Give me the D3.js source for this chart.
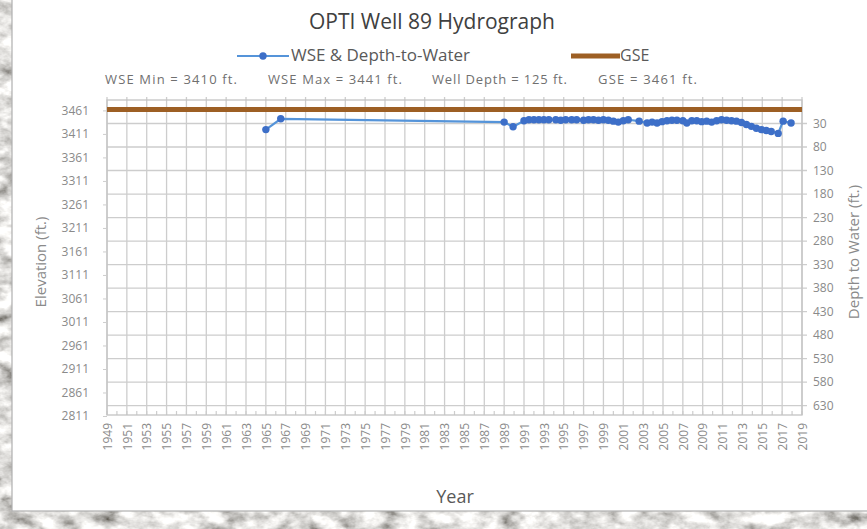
<!DOCTYPE html>
<html>
<head>
<meta charset="utf-8">
<script src="https://cdn.jsdelivr.net/npm/d3@7"></script>
<style>
  html, body { margin: 0; padding: 0; background: #fff; }
  svg { display: block; }
</style>
</head>
<body>
<svg id="chart" width="867" height="529"></svg>
<script>
// Water surface elevation readings (decimal year, feet)
const wseYears = [1965.0, 1966.5, 1989.0, 1989.9, 1991.0, 1991.5, 1992.0, 1992.5, 1993.0, 1993.5,
  1994.2, 1994.7, 1995.2, 1995.8, 1996.3, 1997.0, 1997.5, 1998.0, 1998.5, 1999.0,
  1999.5, 2000.0, 2000.5, 2001.0, 2001.5, 2002.6, 2003.4, 2003.9, 2004.4, 2004.9,
  2005.4, 2005.9, 2006.4, 2007.0, 2007.4, 2007.9, 2008.4, 2008.9, 2009.4, 2009.9,
  2010.4, 2010.9, 2011.4, 2011.9, 2012.4, 2012.9, 2013.4, 2013.9, 2014.4, 2014.9,
  2015.4, 2015.9, 2016.6, 2017.1, 2017.9];
const wseValues = [3418, 3441, 3434, 3424, 3437, 3439, 3439, 3439, 3439, 3439,
  3439, 3438, 3439, 3439, 3439, 3438, 3439, 3439, 3438, 3439,
  3438, 3436, 3434, 3437, 3439, 3436, 3432, 3434, 3432, 3435,
  3437, 3438, 3438, 3437, 3432, 3437, 3437, 3435, 3436, 3434,
  3437, 3439, 3438, 3437, 3436, 3433, 3429, 3425, 3421, 3418,
  3416, 3414, 3410, 3436, 3432];

// Ground surface elevation, constant across the record
const gseYears = [1949, 2019];
const gseValues = [3461, 3461];

const elevationTicks = [3461, 3411, 3361, 3311, 3261, 3211, 3161, 3111, 3061, 3011, 2961, 2911, 2861, 2811];
const depthTicks = [30, 80, 130, 180, 230, 280, 330, 380, 430, 480, 530, 580, 630];
const yearTicks = [1949, 1951, 1953, 1955, 1957, 1959, 1961, 1963, 1965, 1967, 1969, 1971,
  1973, 1975, 1977, 1979, 1981, 1983, 1985, 1987, 1989, 1991, 1993, 1995, 1997, 1999,
  2001, 2003, 2005, 2007, 2009, 2011, 2013, 2015, 2017, 2019];
const yearMinorTicks = d3.range(1949, 2020, 1);

const statsLabels = ["WSE Min = 3410 ft.", "WSE Max = 3441 ft.", "Well Depth = 125 ft.", "GSE = 3461 ft."];

const svg = d3.select("#chart");
const W = 867, H = 529;
const font = "'Open Sans', 'DejaVu Sans', sans-serif";

// Textured stone backdrop around the white sheet
const defs = svg.append("defs");
const tex = defs.append("filter").attr("id", "stone").attr("x", 0).attr("y", 0).attr("width", "100%").attr("height", "100%");
tex.append("feTurbulence").attr("type", "fractalNoise").attr("baseFrequency", "0.05 0.08")
  .attr("numOctaves", 4).attr("seed", 7).attr("result", "n");
tex.append("feColorMatrix").attr("type", "matrix")
  .attr("values", "1.05 1.05 0 0 -0.3  1.05 1.05 0 0 -0.31  1.05 1.05 0 0 -0.33  0 0 0 0 1");
svg.append("rect").attr("width", W).attr("height", H).attr("fill", "#c0beb8");
svg.append("rect").attr("width", W).attr("height", H).attr("filter", "url(#stone)");

// White sheet
svg.append("rect").attr("x", 12).attr("y", -2).attr("width", W).attr("height", 513)
  .attr("fill", "#ffffff").attr("stroke", "#b0b0b0").attr("stroke-width", 1.2);

// Plot area
const plot = { left: 107, right: 802, top: 100, bottom: 415 };
const x = d3.scaleLinear().domain([1949, 2019]).range([plot.left, plot.right]);
const yElev = d3.scaleLinear().domain([2811, 3481]).range([plot.bottom, plot.top]);
const yDepth = d3.scaleLinear().domain([-20, 650]).range([plot.top, plot.bottom]);

const gridColor = "#cdcdcd";
const g = svg.append("g");

// Horizontal gridlines follow the depth axis
g.append("g").selectAll("line").data(depthTicks).join("line")
  .attr("x1", plot.left).attr("x2", plot.right + 5)
  .attr("y1", d => yDepth(d)).attr("y2", d => yDepth(d))
  .attr("stroke", gridColor).attr("stroke-width", 1.3);

// Vertical gridlines every two years
g.append("g").selectAll("line").data(yearTicks).join("line")
  .attr("x1", d => x(d)).attr("x2", d => x(d))
  .attr("y1", plot.top - 3).attr("y2", plot.bottom)
  .attr("stroke", gridColor).attr("stroke-width", 1.3);

// Minor yearly ticks along the bottom edge
g.append("g").selectAll("line").data(yearMinorTicks).join("line")
  .attr("x1", d => x(d)).attr("x2", d => x(d))
  .attr("y1", plot.bottom - 4).attr("y2", plot.bottom)
  .attr("stroke", gridColor).attr("stroke-width", 1.2);

// Plot frame
g.append("rect").attr("x", plot.left).attr("y", plot.top)
  .attr("width", plot.right - plot.left).attr("height", plot.bottom - plot.top)
  .attr("fill", "none").attr("stroke", "#c4c4c4").attr("stroke-width", 1.3);

// Left elevation axis
const leftAxis = d3.axisLeft(yElev).tickValues(elevationTicks).tickSize(4).tickPadding(14).tickFormat(d3.format("d"));
const la = svg.append("g").attr("transform", `translate(${plot.left},1)`).call(leftAxis);
la.select(".domain").remove();
la.selectAll(".tick line").attr("stroke", gridColor);
la.selectAll("text").attr("fill", "#8a8a8a").style("font", `12px ${font}`);

// Right depth axis (reversed)
const rightAxis = d3.axisRight(yDepth).tickValues(depthTicks).tickSize(0).tickPadding(11).tickFormat(d3.format("d"));
const ra = svg.append("g").attr("transform", `translate(${plot.right},0)`).call(rightAxis);
ra.select(".domain").remove();
ra.selectAll("text").attr("fill", "#8a8a8a").style("font", `12px ${font}`);

// Bottom year axis, labels rotated
const bottomAxis = d3.axisBottom(x).tickValues(yearTicks).tickSize(0).tickPadding(0).tickFormat(d3.format("d"));
const ba = svg.append("g").attr("transform", `translate(0,${plot.bottom})`).call(bottomAxis);
ba.select(".domain").remove();
ba.selectAll("text")
  .attr("transform", "rotate(-90)")
  .attr("x", -8).attr("y", 0).attr("dy", "0.35em")
  .attr("text-anchor", "end")
  .attr("fill", "#8a8a8a").style("font", `12px ${font}`);

// GSE line
const lineElev = d3.line().x(d => x(d[0])).y(d => yElev(d[1]));
svg.append("path").datum(d3.zip(gseYears, gseValues)).attr("d", lineElev)
  .attr("fill", "none").attr("stroke", "#9d5f24").attr("stroke-width", 5);

// WSE series
const wse = d3.zip(wseYears, wseValues);
svg.append("path").datum(wse).attr("d", lineElev)
  .attr("fill", "none").attr("stroke", "#5594d9").attr("stroke-width", 2.2);
svg.append("g").selectAll("circle").data(wse).join("circle")
  .attr("cx", d => x(d[0])).attr("cy", d => yElev(d[1])).attr("r", 3.7)
  .attr("fill", "#3d6fc8");

// Title
svg.append("text").attr("x", 432).attr("y", 29).attr("text-anchor", "middle")
  .attr("fill", "#404040").style("font", `21px ${font}`).text("OPTI Well 89 Hydrograph");

// Legend
const lg = svg.append("g");
lg.append("line").attr("x1", 237).attr("x2", 289).attr("y1", 56).attr("y2", 56)
  .attr("stroke", "#5594d9").attr("stroke-width", 2.2);
lg.append("circle").attr("cx", 263).attr("cy", 56).attr("r", 3.7).attr("fill", "#3d6fc8");
lg.append("text").attr("x", 291).attr("y", 61).attr("fill", "#595959")
  .attr("textLength", 179).attr("lengthAdjust", "spacingAndGlyphs")
  .style("font", `16px ${font}`).text("WSE & Depth-to-Water");
lg.append("line").attr("x1", 571).attr("x2", 620).attr("y1", 56).attr("y2", 56)
  .attr("stroke", "#9d5f24").attr("stroke-width", 5);
lg.append("text").attr("x", 620).attr("y", 61).attr("fill", "#595959")
  .style("font", `16px ${font}`).text("GSE");

// Summary statistics row
const statsX = [105, 268, 432, 598];
const statsW = [132, 134, 135, 99];
svg.append("g").selectAll("text").data(statsLabels).join("text")
  .attr("x", (d, i) => statsX[i]).attr("y", 84)
  .attr("textLength", (d, i) => statsW[i]).attr("lengthAdjust", "spacing")
  .attr("fill", "#707070").style("font", `13px ${font}`).text(d => d);

// Axis titles
svg.append("text").attr("transform", "translate(46,262) rotate(-90)").attr("text-anchor", "middle")
  .attr("fill", "#8a8a8a").style("font", `15px ${font}`).text("Elevation (ft.)");
svg.append("text").attr("transform", "translate(859,252) rotate(-90)").attr("text-anchor", "middle")
  .attr("fill", "#8a8a8a").style("font", `15px ${font}`).text("Depth to Water (ft.)");
svg.append("text").attr("x", 455).attr("y", 503).attr("text-anchor", "middle")
  .attr("fill", "#595959").style("font", `18px ${font}`).text("Year");
</script>
</body>
</html>
